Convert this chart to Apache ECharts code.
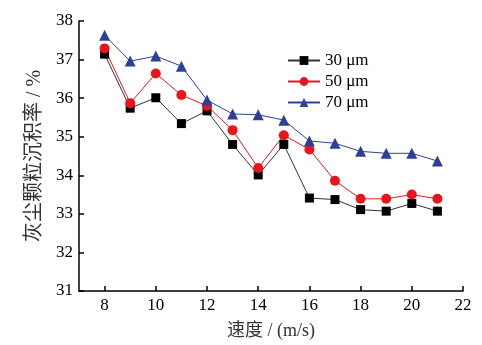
<!DOCTYPE html>
<html>
<head>
<meta charset="utf-8">
<script src="https://cdn.jsdelivr.net/npm/echarts@6/dist/echarts.min.js"></script>
<style>
  html, body { margin: 0; padding: 0; background: #fff; }
  #chart { width: 482px; height: 345px; }
</style>
</head>
<body>
<div id="chart"></div>
<script>
// Wind speed (m/s)
const speeds = [8, 9, 10, 11, 12, 13, 14, 15, 16, 17, 18, 19, 20, 21];
// Deposition rate (%) per particle size
const dep30 = [37.14, 35.74, 36.01, 35.34, 35.67, 34.80, 34.01, 34.80, 33.41, 33.37, 33.11, 33.07, 33.27, 33.07];
const dep50 = [37.29, 35.87, 36.64, 36.08, 35.80, 35.17, 34.19, 35.04, 34.67, 33.86, 33.39, 33.39, 33.50, 33.39];
const dep70 = [37.63, 36.96, 37.09, 36.83, 35.95, 35.59, 35.57, 35.43, 34.89, 34.83, 34.62, 34.57, 34.57, 34.37];
const seriesNames = ['30 μm', '50 μm', '70 μm'];
const xTicks = [8, 10, 12, 14, 16, 18, 20, 22];

const serif = '"Liberation Serif", "DejaVu Serif", "Noto Sans CJK SC", serif';

function pairs(vals) {
  return speeds.map((s, i) => [s, vals[i]]);
}

const chart = echarts.init(document.getElementById('chart'), null, { renderer: 'canvas' });

chart.setOption({
  backgroundColor: '#ffffff',
  animation: false,
  grid: { left: 79, right: 19, top: 21, bottom: 49, containLabel: false },
  legend: {
    orient: 'vertical',
    left: 282,
    top: 47,
    itemWidth: 32,
    itemHeight: 11,
    itemGap: 4,
    textStyle: { fontFamily: serif, fontSize: 17, color: '#000' },
    data: seriesNames
  },
  xAxis: {
    type: 'value',
    min: 7,
    max: 22,
    name: '速度 / (m/s)',
    nameLocation: 'middle',
    nameGap: 31,
    nameTextStyle: { fontFamily: serif, fontSize: 18, color: '#333' },
    axisLine: { lineStyle: { color: '#000', width: 1.5 } },
    axisTick: { inside: true, length: 5, lineStyle: { color: '#000', width: 1.5 }, customValues: xTicks },
    axisLabel: { fontFamily: serif, fontSize: 17, color: '#000', margin: 6, customValues: xTicks },
    splitLine: { show: false }
  },
  yAxis: {
    type: 'value',
    min: 31,
    max: 38,
    interval: 1,
    name: '灰尘颗粒沉积率 / %',
    nameLocation: 'middle',
    nameGap: 33,
    nameTextStyle: { fontFamily: serif, fontSize: 20, color: '#333' },
    axisLine: { show: true, lineStyle: { color: '#000', width: 1.5 } },
    axisTick: { inside: true, length: 5, lineStyle: { color: '#000', width: 1.5 } },
    axisLabel: { fontFamily: serif, fontSize: 17, color: '#000', margin: 6 },
    splitLine: { show: false }
  },
  series: [
    {
      name: seriesNames[0], type: 'line', data: pairs(dep30),
      symbol: 'rect', symbolSize: 9,
      lineStyle: { color: '#333', width: 1 },
      itemStyle: { color: '#000' }
    },
    {
      name: seriesNames[1], type: 'line', data: pairs(dep50),
      symbol: 'circle', symbolSize: 10,
      lineStyle: { color: '#e8161c', width: 1 },
      itemStyle: { color: '#e8161c' }
    },
    {
      name: seriesNames[2], type: 'line', data: pairs(dep70),
      symbol: 'triangle', symbolSize: 11,
      lineStyle: { color: '#2e3f96', width: 1 },
      itemStyle: { color: '#2e3f96' }
    }
  ]
});
</script>
</body>
</html>
